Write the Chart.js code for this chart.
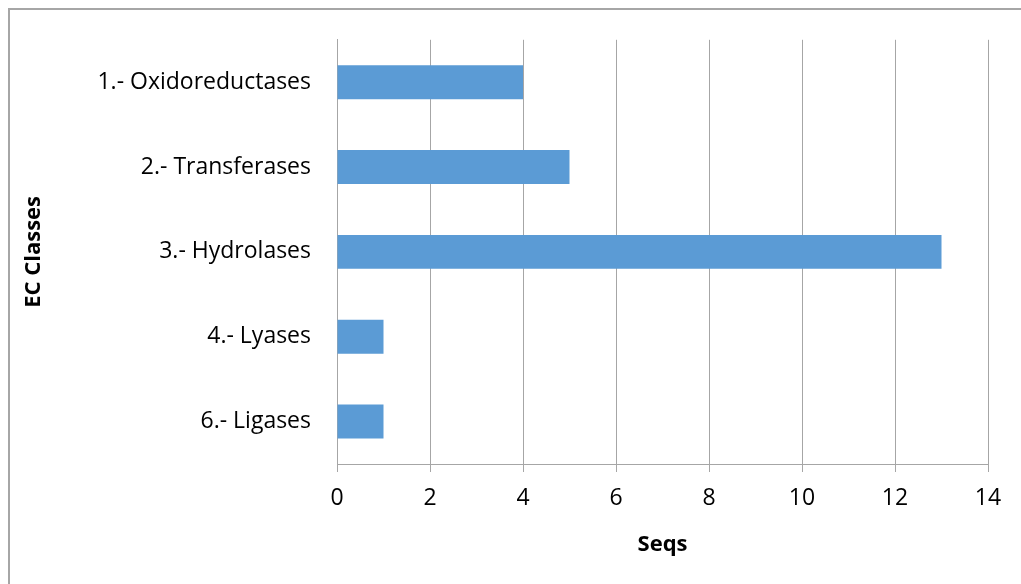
<!DOCTYPE html>
<html lang="en">
<head>
    <meta charset="UTF-8">
    <title>EC Classes</title>
    <script src="https://cdn.jsdelivr.net/npm/chart.js"></script>
    <style>
        body {
            margin: 0;
            background-color: #FFFFFF;
            overflow: hidden;
        }
        #frame {
            position: absolute;
            left: 8px;
            top: 8px;
            width: 1100px;
            height: 700px;
            border: 2px solid #a6a6a6;
        }
        #myChart {
            position: absolute;
            left: 0;
            top: 0;
        }
    </style>
</head>
<body>
    <div id="frame"></div>
    <canvas id="myChart" width="1021" height="584"></canvas>

    <script>
        var categories = ['1.- Oxidoreductases', '2.- Transferases', '3.- Hydrolases', '4.- Lyases', '6.- Ligases'];
        var seqs = [4, 5, 13, 1, 1];
        var xTicks = [0, 2, 4, 6, 8, 10, 12, 14];

        var gridGray = '#a6a6a6';
        var fontName = '"Open Sans", sans-serif';

        var ctx = document.getElementById('myChart').getContext('2d');

        var myChart = new Chart(ctx, {
            type: 'bar',
            data: {
                labels: categories,
                datasets: [{
                    label: 'Seqs',
                    data: seqs,
                    backgroundColor: '#5B9BD5',
                    borderWidth: 0,
                    barPercentage: 0.4,
                    categoryPercentage: 1.0
                }]
            },
            options: {
                indexAxis: 'y',
                responsive: false,
                animation: false,
                layout: {
                    padding: { left: 0, top: 39, right: 33, bottom: 22 }
                },
                scales: {
                    x: {
                        min: xTicks[0],
                        max: xTicks[xTicks.length - 1],
                        afterBuildTicks: function(scale) {
                            scale.ticks = xTicks.map(function(v) { return { value: v }; });
                        },
                        afterFit: function(scale) {
                            scale.height = 98;
                        },
                        grid: {
                            color: gridGray,
                            lineWidth: 1,
                            tickLength: 8
                        },
                        border: { color: gridGray, width: 1 },
                        ticks: {
                            color: '#000',
                            font: { family: fontName, size: 23 },
                            padding: 13,
                            maxRotation: 0
                        },
                        title: {
                            display: true,
                            text: 'Seqs',
                            color: '#000',
                            font: { family: fontName, size: 22, weight: 'bold' },
                            padding: { top: 4, bottom: 4 }
                        }
                    },
                    y: {
                        afterFit: function(scale) {
                            scale.width = 337;
                        },
                        grid: { display: false, drawTicks: false },
                        border: { color: gridGray, width: 1 },
                        ticks: {
                            color: '#000',
                            font: { family: fontName, size: 23 },
                            padding: 26
                        },
                        title: {
                            display: true,
                            text: 'EC Classes',
                            color: '#000',
                            font: { family: fontName, size: 22, weight: 'bold' },
                            padding: { top: 21 }
                        }
                    }
                },
                plugins: {
                    legend: { display: false },
                    tooltip: { enabled: false }
                }
            }
        });
    </script>
</body>
</html>
